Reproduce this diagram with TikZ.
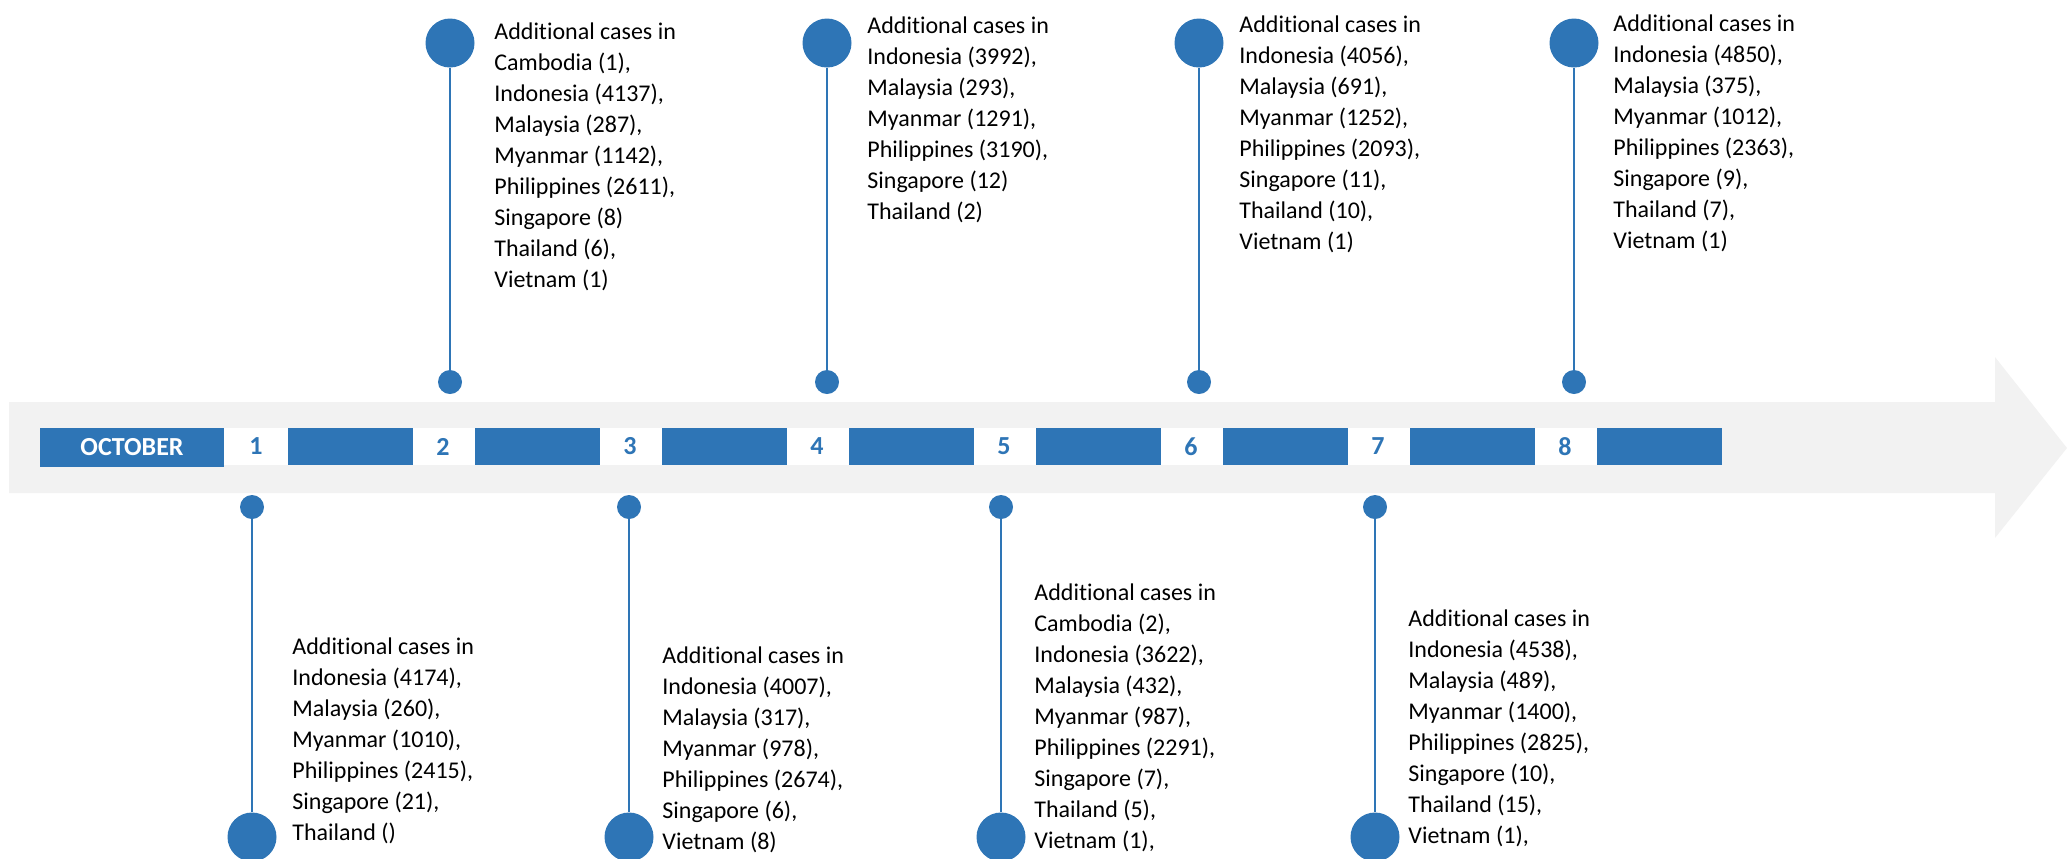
\documentclass[tikz,border=0pt]{standalone}
\usepackage{fontspec}
\setmainfont{Carlito}[Ligatures=NoCommon]
\usetikzlibrary{positioning}
\definecolor{tlblue}{HTML}{2E75B6}
\definecolor{tlgray}{HTML}{F2F2F2}
\tikzset{
	bigdot/.style={circle, fill=tlblue, inner sep=0pt, minimum size=24.5pt},
	smalldot/.style={circle, fill=tlblue, inner sep=0pt, minimum size=12pt},
	stem/.style={draw=tlblue, line width=1pt},
	monthbox/.style={fill=tlblue, text=white, inner sep=0pt, minimum width=92pt, minimum height=19.5pt, font=\fontsize{13}{13}\selectfont\bfseries},
	daylabel/.style={inner sep=0pt, text=tlblue, font=\fontsize{13}{13}\selectfont\bfseries},
	bar/.style={fill=tlblue, inner sep=0pt, minimum width=62.5pt, minimum height=18.5pt},
	cases/.style={anchor=north west, inner sep=0pt, align=left, font=\fontsize{12}{15.5}\selectfont}
}
\begin{document}
\begin{tikzpicture}[x=0.5pt, y=-0.5pt]
		\useasboundingbox (0,0) rectangle (2067,858);

		\fill[tlgray] (9,402) -- (1995,402) -- (1995,357) -- (2067,448) -- (1995,538) -- (1995,493) -- (9,493) -- cycle;
		\fill[white] (224,428) rectangle (1721,465);

		\node[monthbox] (oct) at (132,447) {OCTOBER};
		\foreach \d in {1,...,8} {
			\node[daylabel] (day\d) at ({256+187*(\d-1)},446.5) {\d};
			\node[bar] (bar\d) at ({350.5+187*(\d-1)},446.5) {};
		}

		\foreach \x/\n in {450/2, 827/4, 1199/6, 1574/8} {
			\node[bigdot] (top\n) at (\x,43) {};
			\node[smalldot] (pin\n) at (\x,382) {};
			\draw[stem] (top\n) -- (pin\n);
		}
		\foreach \x/\n in {252/1, 629/3, 1001/5, 1375/7} {
			\node[smalldot] (pin\n) at (\x,507) {};
			\node[bigdot] (bot\n) at (\x,837) {};
			\draw[stem] (pin\n) -- (bot\n);
		}

		\node[cases] (txt2) at (494,22) {Additional cases in\\Cambodia (1),\\Indonesia (4137),\\Malaysia (287),\\Myanmar (1142),\\Philippines (2611),\\Singapore (8)\\Thailand (6),\\Vietnam (1)};
		\node[cases] (txt4) at (867,16) {Additional cases in\\Indonesia (3992),\\Malaysia (293),\\Myanmar (1291),\\Philippines (3190),\\Singapore (12)\\Thailand (2)};
		\node[cases] (txt6) at (1239,15) {Additional cases in\\Indonesia (4056),\\Malaysia (691),\\Myanmar (1252),\\Philippines (2093),\\Singapore (11),\\Thailand (10),\\Vietnam (1)};
		\node[cases] (txt8) at (1613,14) {Additional cases in\\Indonesia (4850),\\Malaysia (375),\\Myanmar (1012),\\Philippines (2363),\\Singapore (9),\\Thailand (7),\\Vietnam (1)};

		\node[cases] (txt1) at (292,637) {Additional cases in\\Indonesia (4174),\\Malaysia (260),\\Myanmar (1010),\\Philippines (2415),\\Singapore (21),\\Thailand ()};
		\node[cases] (txt3) at (662,646) {Additional cases in\\Indonesia (4007),\\Malaysia (317),\\Myanmar (978),\\Philippines (2674),\\Singapore (6),\\Vietnam (8)};
		\node[cases] (txt5) at (1034,583) {Additional cases in\\Cambodia (2),\\Indonesia (3622),\\Malaysia (432),\\Myanmar (987),\\Philippines (2291),\\Singapore (7),\\Thailand (5),\\Vietnam (1),};
		\node[cases] (txt7) at (1408,609) {Additional cases in\\Indonesia (4538),\\Malaysia (489),\\Myanmar (1400),\\Philippines (2825),\\Singapore (10),\\Thailand (15),\\Vietnam (1),};
	\end{tikzpicture}
\end{document}
